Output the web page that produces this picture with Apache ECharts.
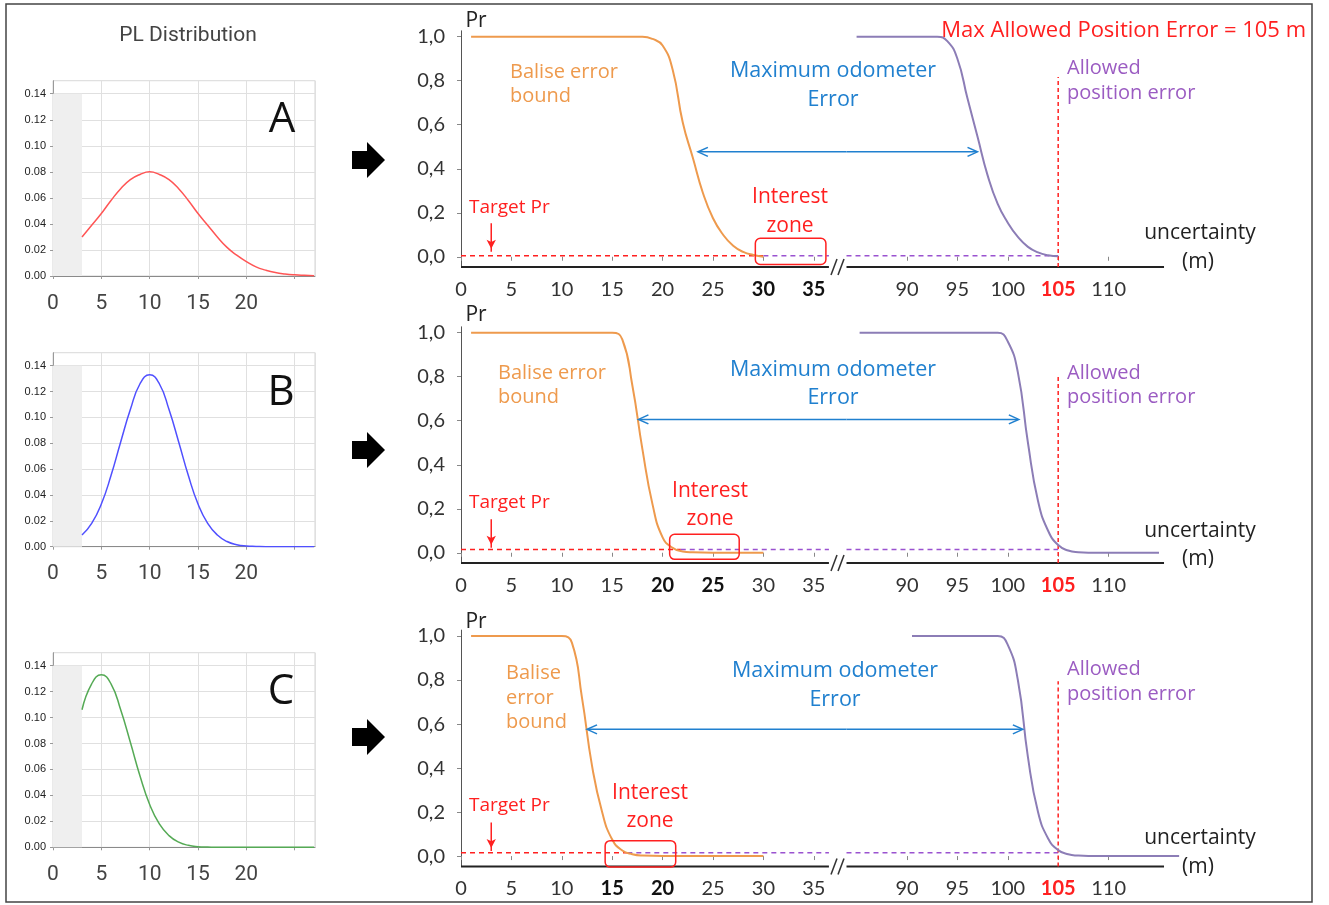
<!DOCTYPE html>
<html><head><meta charset="utf-8">
<script src="https://cdn.jsdelivr.net/npm/echarts@6/dist/echarts.min.js"></script>
<style>html,body{margin:0;padding:0;background:#fff}#c{width:1329px;height:905px}</style>
</head><body><div id="c"></div>
<script>
// ---------------- DATA ----------------
const plX = [3,4,5,6,7,8,9,10,11,12,13,14,15,16,17,18,19,20,21,22,23,24,25,26,27];
const plA = [0.030,0.039,0.048,0.058,0.067,0.074,0.078,0.080,0.078,0.074,0.067,0.058,0.048,0.039,0.030,0.022,0.016,0.011,0.007,0.0045,0.0027,0.0016,0.0009,0.0005,0.0002];
const plB = [0.009,0.018,0.033,0.055,0.081,0.106,0.126,0.133,0.126,0.106,0.081,0.055,0.033,0.018,0.009,0.004,0.0015,0.0005,0.0002,0,0,0,0,0,0];
const plC = [0.106,0.126,0.133,0.126,0.106,0.081,0.055,0.033,0.018,0.009,0.004,0.0015,0.0005,0.0002,0,0,0,0,0,0,0,0,0,0,0];
const plNames = ['A','B','C'];
const plTickLabels = [0,5,10,15,20];

const prTicks = [0,0.2,0.4,0.6,0.8,1];
const nearTicks = [0,5,10,15,20,25,30,35];
const farTicks = [90,95,100,105,110];
const boldNear = [[30,35],[20,25],[15,20]];
const allowedErr = 105;
const nearAxisEnd = 36.5, farAxisStart = 84, farAxisEnd = 115.5;

const baliseA = [[1,1],[18,1],[19,0.99],[20,0.96],[21,0.85],[22,0.61],[23,0.45],[24,0.29],[25,0.175],[26,0.1],[27,0.05],[28,0.022],[29,0.008],[30,0]];
const baliseB = [[1,1],[15,1],[16,0.97],[17,0.76],[18,0.47],[19,0.22],[20,0.07],[21,0.022],[22,0.006],[23,0.002],[25,0],[30,0]];
const baliseC = [[1,1],[10,1],[11,0.97],[12,0.72],[13,0.41],[14,0.2],[15,0.075],[16,0.025],[17,0.008],[18,0.002],[20,0],[30,0]];
const odoA = [[85,1],[93,1],[94,0.98],[95,0.9],[96,0.72],[97,0.545],[98,0.37],[99,0.24],[100,0.155],[101,0.09],[102,0.045],[103,0.02],[104,0.007],[105,0.002]];
const odoB = [[85.3,1],[99,1],[100,0.96],[101,0.82],[102,0.5],[103,0.235],[104,0.1],[105,0.035],[106,0.01],[107,0.002],[108,0],[115,0]];
const odoC = [[90.5,1],[99,1],[100,0.96],[101,0.8],[102,0.45],[103,0.2],[104,0.08],[105,0.027],[106,0.008],[107,0.002],[108,0],[117,0]];
const baliseRows = [baliseA, baliseB, baliseC];
const odoRows = [odoA, odoB, odoC];
const targetPr = [0.005, 0.015, 0.015];
const targetSwitch = [30, 21.8, 16.5];          // where dashed target line turns purple
const odoArrow = [[23.6, 96.9, 0.477],[17.7, 101.0, 0.606],[12.6, 101.4, 0.576]];
const interestZone = [[29.2, 36.2, -0.035, 0.084],[20.7, 27.6, -0.03, 0.084],[14.3, 21.3, -0.05, 0.07]];
const allowedTop = [0.817, 0.81, 0.795];
const targetArrow = [3, 0.152, 0.023];

// ---------------- LAYOUT / STYLE ----------------
const FONT = '"Open Sans", "Noto Sans", sans-serif';
const TICKFONT = 'Lato, "Noto Sans", sans-serif';
const ORANGE = '#EE9A4D', BLUE = '#2080CF', RED = '#FF2020', PURPLE_C = '#8C7DB6', PURPLE_D = '#9A52D0', PURPLE_T = '#9B5CC2';
const PL_GRIDS = [{top:80.7,h:195.3},{top:352.7,h:194},{top:652.7,h:194.6}];
const PL_COLORS = ['#FF5555','#5050FF','#55AA55'];
const ROW_TOP = [30.8, 326.8, 630.1], ROW_H = 236.3;
const YMIN = -0.047, YMAX = 1.027;
const K = 10.08;                       // px per metre on the right charts
const NEAR_LEFT = 461, FAR_LEFT = 846.5;
const NEAR_MAX = (FAR_LEFT - NEAR_LEFT) / K;   // near grid runs up to far grid start
const FAR_MAX_ROW = [115.5, 115.5, 117.3];

const grid = [], xAxis = [], yAxis = [], series = [], graphic = [];

// Left PL distribution charts
PL_GRIDS.forEach((g, i) => {
  grid.push({left:53, top:g.top, width:262, height:g.h, show:true, borderColor:'#d4d4d4', borderWidth:1, backgroundColor:'#fff'});
  xAxis.push({type:'value', gridIndex:i, min:0, max:27.1, interval:5,
    axisLine:{lineStyle:{color:'#8a8a8a', width:1}}, axisTick:{length:3, lineStyle:{color:'#999'}},
    splitLine:{show:true, lineStyle:{color:'#e0e0e0'}},
    axisLabel:{fontSize:21, color:'#444', fontFamily:'Roboto, sans-serif', margin:17, showMaxLabel:false,
      formatter:v => plTickLabels.includes(v) ? String(v) : ''}});
  yAxis.push({type:'value', gridIndex:i, min:0, max:0.15, interval:0.02,
    axisLine:{show:true, lineStyle:{color:'#9a9a9a'}}, axisTick:{show:true, length:3, lineStyle:{color:'#999'}},
    splitLine:{show:true, lineStyle:{color:'#e0e0e0'}},
    axisLabel:{fontSize:11, color:'#222', fontFamily:'"Liberation Sans", Arial, sans-serif', margin:7, showMaxLabel:false,
      formatter:v => v.toFixed(2)}});
});
[plA, plB, plC].forEach((arr, i) => {
  series.push({type:'line', xAxisIndex:i, yAxisIndex:i, smooth:true, showSymbol:false,
    data: plX.map((x, k) => [x, arr[k]]), lineStyle:{color:PL_COLORS[i], width:1.5}, z:3,
    markArea:{silent:true, itemStyle:{color:'#efefef'}, data:[[{coord:[0,0]},{coord:[3,0.14]}]]}});
});

// Right charts
for (let r = 0; r < 3; r++) {
  const gN = 3 + 2*r, gF = 4 + 2*r;
  const farMax = FAR_MAX_ROW[r];
  grid.push({left:NEAR_LEFT, top:ROW_TOP[r], width:NEAR_MAX * K, height:ROW_H});
  grid.push({left:FAR_LEFT, top:ROW_TOP[r], width:(farMax - farAxisStart) * K, height:ROW_H});
  const bolds = boldNear[r];
  xAxis.push({type:'value', gridIndex:gN, min:0, max:NEAR_MAX,
    axisLine:{show:false},
    axisTick:{customValues:nearTicks, length:4, lineStyle:{color:'#888'}},
    splitLine:{show:false},
    axisLabel:{customValues:nearTicks, margin:12, fontSize:20, color:'#333', fontFamily:TICKFONT,
      formatter:v => bolds.includes(v) ? '{b|' + v + '}' : String(v),
      rich:{b:{fontSize:20, fontWeight:'bold', color:'#111', fontFamily:TICKFONT}}}});
  xAxis.push({type:'value', gridIndex:gF, min:farAxisStart, max:farMax,
    axisLine:{show:false},
    axisTick:{customValues:farTicks, length:4, lineStyle:{color:'#888'}},
    splitLine:{show:false},
    axisLabel:{customValues:farTicks, margin:12, fontSize:20, color:'#333', fontFamily:TICKFONT,
      formatter:v => v === allowedErr ? '{r|' + v + '}' : String(v),
      rich:{r:{fontSize:20, fontWeight:'bold', color:RED, fontFamily:TICKFONT}}}});
  yAxis.push({type:'value', gridIndex:gN, min:YMIN, max:YMAX,
    axisLine:{show:true, lineStyle:{color:'#555', width:1}},
    axisTick:{show:true, customValues:prTicks, length:4, lineStyle:{color:'#888'}},
    splitLine:{show:false},
    axisLabel:{customValues:prTicks, margin:16, fontSize:20, color:'#333', fontFamily:TICKFONT,
      formatter:v => v.toFixed(1).replace('.', ',')}});
  yAxis.push({type:'value', gridIndex:gF, min:YMIN, max:YMAX, show:false});

  // x axis lines (broken axis)
  series.push({type:'line', xAxisIndex:gN, yAxisIndex:gN, data:[[0,YMIN],[nearAxisEnd,YMIN]], showSymbol:false, clip:false,
    lineStyle:{color:'#222', width:2}, z:2, silent:true});
  series.push({type:'line', xAxisIndex:gF, yAxisIndex:gF, data:[[farAxisStart,YMIN],[farAxisEnd,YMIN]], showSymbol:false, clip:false,
    lineStyle:{color:'#222', width:2}, z:2, silent:true});

  const t = targetPr[r];
  // Balise error bound curve
  series.push({type:'line', xAxisIndex:gN, yAxisIndex:gN, data:baliseRows[r], smooth:0.5,
    showSymbol:false, lineStyle:{color:ORANGE, width:2}, z:4});
  // target Pr dashed (red then purple)
  series.push({type:'line', xAxisIndex:gN, yAxisIndex:gN, data:[[0,t],[targetSwitch[r],t]], showSymbol:false,
    lineStyle:{color:RED, width:1.5, type:[5,4]}, z:3});
  series.push({type:'line', xAxisIndex:gN, yAxisIndex:gN, data:[[targetSwitch[r],t],[nearAxisEnd,t]], showSymbol:false,
    lineStyle:{color:PURPLE_D, width:1.5, type:[5,4]}, z:3});
  series.push({type:'line', xAxisIndex:gF, yAxisIndex:gF, data:[[farAxisStart,t],[allowedErr,t]], showSymbol:false,
    lineStyle:{color:PURPLE_D, width:1.5, type:[5,4]}, z:3});
  // odometer curve
  series.push({type:'line', xAxisIndex:gF, yAxisIndex:gF, data:odoRows[r], smooth:0.5,
    showSymbol:false, lineStyle:{color:PURPLE_C, width:2}, z:4});
  // allowed position error vertical
  series.push({type:'line', xAxisIndex:gF, yAxisIndex:gF, data:[[allowedErr,YMIN],[allowedErr,allowedTop[r]]], showSymbol:false,
    lineStyle:{color:RED, width:1.5, type:[4,3]}, z:3});
  // odometer double arrow
  const oa = odoArrow[r];
  const chev = 'path://M0,10 L5,0 L10,10';
  series.push({type:'line', xAxisIndex:gN, yAxisIndex:gN, showSymbol:true, symbol:'none',
    data:[{value:[oa[0],oa[2]], symbol:chev, symbolSize:[9,10], symbolRotate:90, symbolOffset:[4,0]},
          {value:[NEAR_MAX,oa[2]], symbol:'none'}],
    itemStyle:{color:'rgba(0,0,0,0)', borderColor:BLUE, borderWidth:1.5},
    lineStyle:{color:BLUE, width:1.5}, z:5});
  series.push({type:'line', xAxisIndex:gF, yAxisIndex:gF, showSymbol:true, symbol:'none',
    data:[{value:[farAxisStart,oa[2]], symbol:'none'},
          {value:[oa[1],oa[2]], symbol:chev, symbolSize:[9,10], symbolRotate:-90, symbolOffset:[-4,0]}],
    itemStyle:{color:'rgba(0,0,0,0)', borderColor:BLUE, borderWidth:1.5},
    lineStyle:{color:BLUE, width:1.5}, z:5});
  // target Pr arrow
  series.push({type:'line', xAxisIndex:gN, yAxisIndex:gN, showSymbol:true, symbol:'none',
    data:[{value:[targetArrow[0],targetArrow[1]], symbol:'none'},
          {value:[targetArrow[0],targetArrow[2]], symbol:'arrow', symbolSize:[7,9], symbolRotate:180, symbolOffset:[0,-3]}],
    itemStyle:{color:RED}, lineStyle:{color:RED, width:1.5}, z:5});
  // interest zone
  series.push({type:'custom', xAxisIndex:gN, yAxisIndex:gN, clip:false, z:6, silent:true,
    data:[interestZone[r]], encode:{x:[0,1], y:[2,3]},
    renderItem:(params, api) => {
      const p0 = api.coord([api.value(0), api.value(3)]);
      const p1 = api.coord([api.value(1), api.value(2)]);
      return {type:'rect', shape:{x:p0[0], y:p0[1], width:p1[0]-p0[0], height:p1[1]-p0[1], r:5},
        style:{fill:'none', stroke:RED, lineWidth:1.5}};
    }});

  // break marks
  const ay = ROW_TOP[r] + ROW_H;
  graphic.push({type:'line', shape:{x1:831, y1:ay+8, x2:837, y2:ay-8}, style:{stroke:'#333', lineWidth:1.5}});
  graphic.push({type:'line', shape:{x1:838, y1:ay+8, x2:844, y2:ay-8}, style:{stroke:'#333', lineWidth:1.5}});
}

// ---------------- TEXTS ----------------
function txt(x, y, s, size, color, align, family) {
  graphic.push({type:'text', x:x, y:y, z:100,
    style:{text:s, fontSize:size, fill:color, fontFamily:family || FONT, align:align || 'left', verticalAlign:'middle'}});
}
txt(188, 36, 'PL Distribution', 21, '#444', 'center', 'Roboto, sans-serif');
[[282,120],[281,393],[281,692]].forEach((p, i) => txt(p[0], p[1], plNames[i], 42, '#111', 'center', '"Open Sans", sans-serif'));
// big black arrows
[160, 450, 737].forEach(cy => {
  graphic.push({type:'polygon', shape:{points:[[352,cy-9],[367,cy-9],[367,cy-18],[385,cy],[367,cy+18],[367,cy+9],[352,cy+9]]},
    style:{fill:'#000'}});
});
// outer frame
graphic.push({type:'rect', shape:{x:6, y:4, width:1306, height:898}, style:{fill:'none', stroke:'#444', lineWidth:1.5}, z:-1});

const rowsText = [
  {pr:21, bal:[510,[72,96],['Balise error','bound']], max:[833,[71,100]], int:[790,[197,226]], tgt:208, alw:[68,93], unc:[233,262]},
  {pr:315, bal:[498,[373,397],['Balise error','bound']], max:[833,[370,398]], int:[710,[491,519]], tgt:503, alw:[373,397], unc:[531,559]},
  {pr:622, bal:[506,[673,698,722],['Balise','error','bound']], max:[835,[671,700]], int:[650,[793,821]], tgt:806, alw:[669,694], unc:[838,867]}
];
rowsText.forEach(R => {
  txt(476, R.pr, 'Pr', 21, '#222', 'center');
  R.bal[2].forEach((s, k) => txt(R.bal[0], R.bal[1][k], s, 20, ORANGE, 'left'));
  txt(R.max[0], R.max[1][0], 'Maximum odometer', 21.5, BLUE, 'center');
  txt(R.max[0], R.max[1][1], 'Error', 21.5, BLUE, 'center');
  txt(R.int[0], R.int[1][0], 'Interest', 21, RED, 'center');
  txt(R.int[0], R.int[1][1], 'zone', 21, RED, 'center');
  txt(469, R.tgt, 'Target Pr', 19, RED, 'left');
  txt(1067, R.alw[0], 'Allowed', 20, PURPLE_T, 'left');
  txt(1067, R.alw[1], 'position error', 20, PURPLE_T, 'left');
  txt(1200, R.unc[0], 'uncertainty', 21, '#222', 'center');
  txt(1198, R.unc[1], '(m)', 21, '#222', 'center');
});
txt(1306, 31, 'Max Allowed Position Error = 105 m', 22, RED, 'right');

const chart = echarts.init(document.getElementById('c'), null, {width:1329, height:905});
chart.setOption({animation:false, backgroundColor:'#fff', grid, xAxis, yAxis, series, graphic});
</script></body></html>
